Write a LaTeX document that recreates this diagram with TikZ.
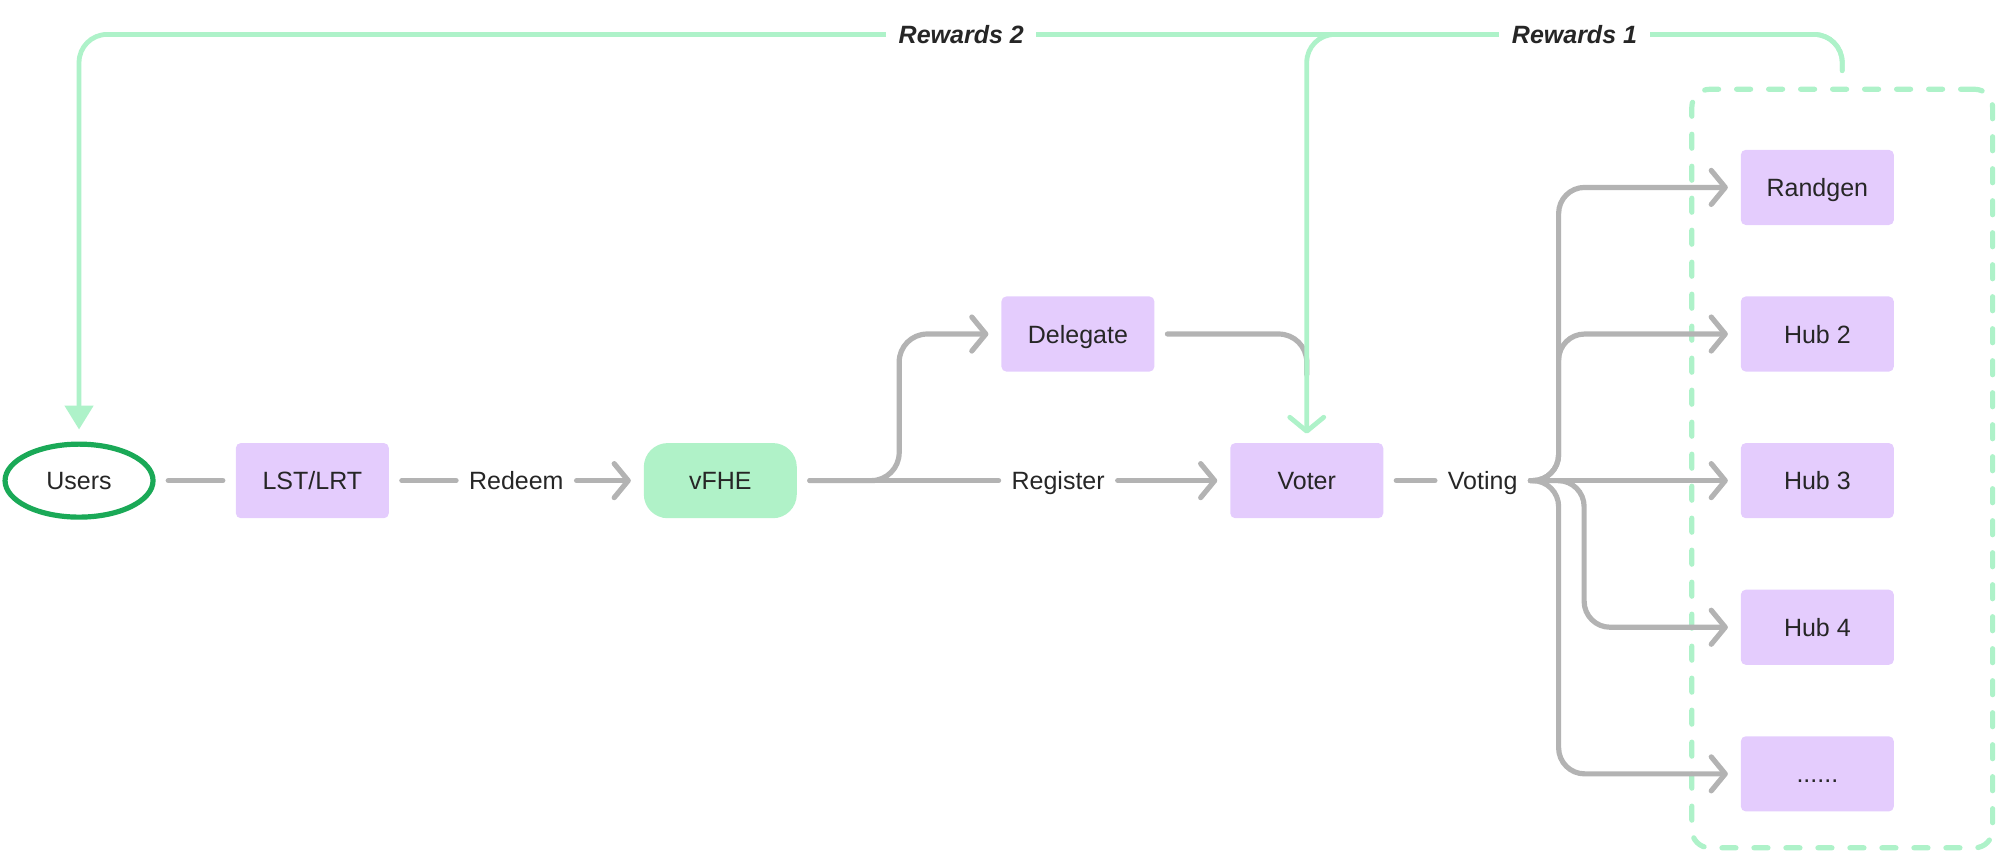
\documentclass[tikz,border=0pt]{standalone}
\usepackage{fontspec}
\setmainfont{Liberation Sans}
\usetikzlibrary{arrows.meta,shapes.geometric}
\definecolor{boxpurple}{HTML}{E4CCFD}
\definecolor{fhegreen}{HTML}{B0F2C8}
\definecolor{rewardgreen}{HTML}{AEF2C9}
\definecolor{userring}{HTML}{1AA957}
\definecolor{flowgray}{HTML}{B3B3B3}
\definecolor{inktext}{HTML}{262626}

\begin{document}
\begin{tikzpicture}[line cap=round,x=0.6375pt,y=-0.6375pt,
		every node/.style={font=\fontsize{12.5}{15}\selectfont,text=inktext,inner sep=0pt,text height=9pt,text depth=0pt},
		block/.style={fill=boxpurple,rounded corners=2.5pt,minimum width=76.5pt,minimum height=37.6pt},
		flow/.style={draw=flowgray,line width=2.6pt,shorten <=6.3pt,shorten >=6.3pt},
		chev/.style={-{Straight Barb[length=7pt,width=17pt,round]}},
		reward/.style={draw=rewardgreen,line width=2.4pt,rounded corners=14pt},
		tag/.style={fill=white,inner xsep=6.3pt,inner ysep=2pt,font=\fontsize{12.5}{15}\selectfont\bfseries\itshape}]
		\useasboundingbox (0,0) rectangle (1568,670);
		%		\draw[help lines] (0,0) grid[step=100] (1568,670);
		\coordinate (railtop) at (0,27);
		\node[draw=rewardgreen,line width=2.6pt,dash pattern=on 7pt off 9pt,rounded corners=9pt,minimum width=150.4pt,minimum height=379.3pt] (grp) at (1445,367.5) {};
		\node[ellipse,draw=userring,line width=2.6pt,minimum width=74pt,minimum height=36.5pt] (users) at (62,377) {Users};
		\node[block] (lst) at (245,377) {LST/LRT};
		\node (redeem) at (405,377) {Redeem};
		\node[block,fill=fhegreen,rounded corners=12pt] (vfhe) at (565,377) {vFHE};
		\node (register) at (830,377) {Register};
		\node[block] (delegate) at (845.5,262) {Delegate};
		\node[block] (voter) at (1025,377) {Voter};
		\node (voting) at (1163,377) {Voting};
		\node[block] (randgen) at (1425.5,147) {Randgen};
		\node[block] (hubtwo) at (1425.5,262) {Hub 2};
		\node[block] (hubthree) at (1425.5,377) {Hub 3};
		\node[block] (hubfour) at (1425.5,492) {Hub 4};
		\node[block] (more) at (1425.5,607) {......};
		\draw[flow] (users) -- (lst);
		\draw[flow] (lst) -- (redeem);
		\draw[flow,chev] (redeem) -- (vfhe);
		\draw[flow] (vfhe) -- (register);
		\draw[flow,chev] (register) -- (voter);
		\draw[flow,chev,rounded corners=14pt] (vfhe.east) -- ++(80,0) |- (delegate.west);
		\draw[flow,rounded corners=14pt,shorten >=0pt] (delegate.east) -| ([yshift=34pt]voter.north);
		\draw[flow] (voter) -- (voting);
		\draw[flow,chev] (voting) -- (hubthree);
		\draw[flow,chev,rounded corners=13pt] (voting.east) -- ++(32,0) |- (randgen.west);
		\draw[flow,chev,rounded corners=13pt] (voting.east) -- ++(32,0) |- (hubtwo.west);
		\draw[flow,chev,rounded corners=13pt] (voting.east) -- ++(52,0) |- (hubfour.west);
		\draw[flow,chev,rounded corners=13pt] (voting.east) -- ++(32,0) |- (more.west);
		\draw[reward,-{Straight Barb[length=7pt,width=17pt,round]},shorten >=4.5pt] ([yshift=8pt]grp.north) |- (voter.north |- railtop) -- (voter.north);
		\draw[reward,-{Triangle[length=12pt,width=14pt]},shorten >=6pt] ([yshift=8pt]grp.north) |- (users.north |- railtop) -- (users.north);
		\node[tag] (rewardone) at (1235,27) {Rewards 1};
		\node[tag] (rewardtwo) at (754,27) {Rewards 2};
	\end{tikzpicture}
\end{document}
